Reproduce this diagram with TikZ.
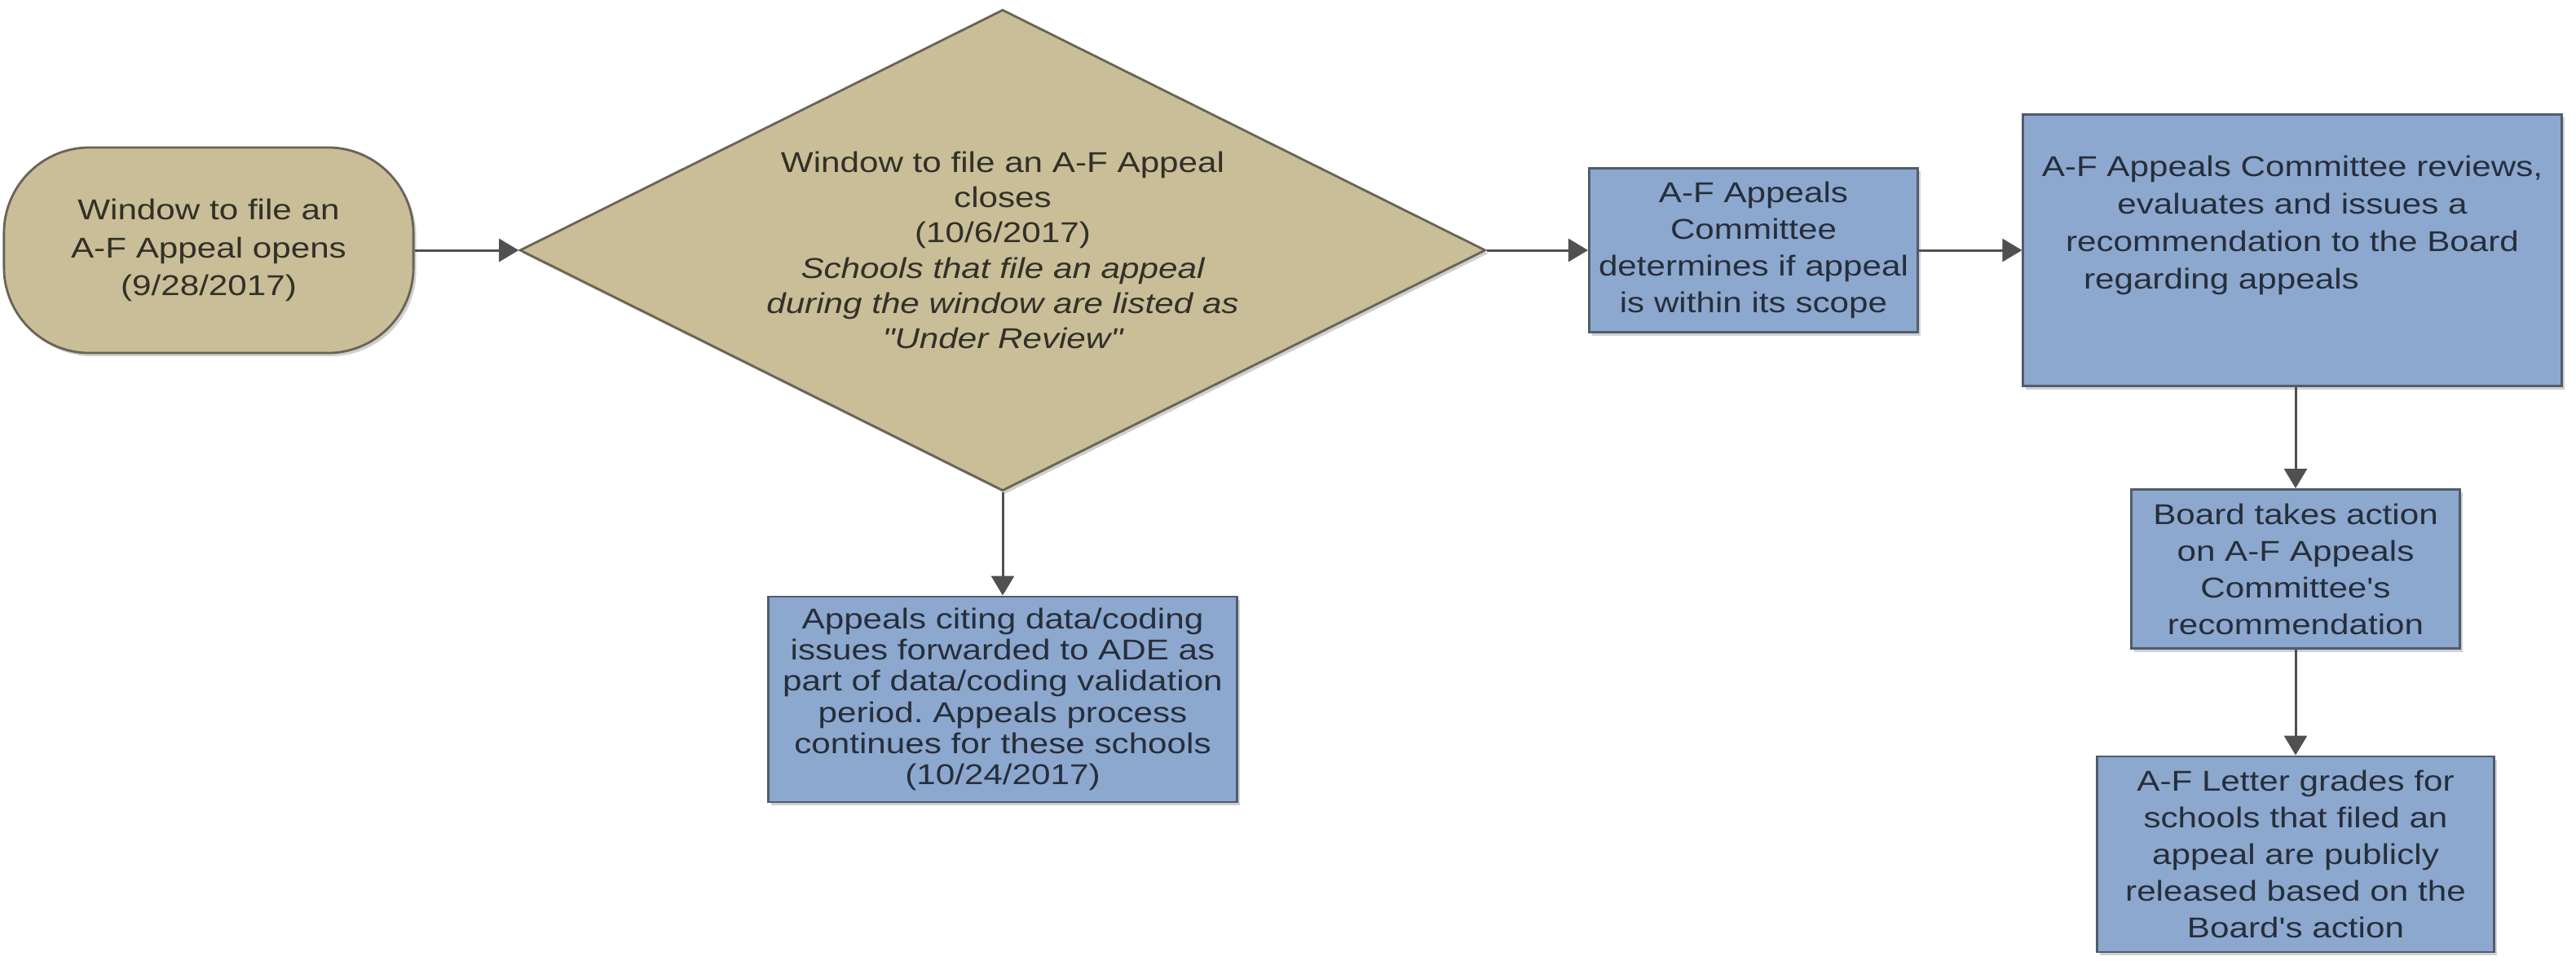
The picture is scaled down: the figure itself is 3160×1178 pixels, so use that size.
\documentclass[tikz,border=0pt]{standalone}
\usepackage{fontspec}
\setmainfont{Liberation Sans}[FakeStretch=1.2,Ligatures=TeXOff]
\usetikzlibrary{shapes.geometric,arrows.meta,shadows}
\definecolor{tanfill}{RGB}{201,190,152}
\definecolor{tanline}{RGB}{105,100,85}
\definecolor{bluefill}{RGB}{141,168,206}
\definecolor{blueline}{RGB}{80,92,110}
\definecolor{tantext}{RGB}{50,48,40}
\definecolor{bluetext}{RGB}{38,46,60}
\definecolor{arrowc}{RGB}{80,80,80}
\frenchspacing
\begin{document}
\begin{tikzpicture}[x=0.01cm,y=-0.01cm,
  shade/.style={drop shadow={shadow xshift=0.035cm,shadow yshift=-0.04cm,opacity=0.3,fill=black!60}},
  tanshape/.style={draw=tanline,fill=tanfill,line width=0.8pt,text=tantext,align=center,inner sep=0pt,shade},
  bluebox/.style={draw=blueline,fill=bluefill,line width=0.8pt,text=bluetext,align=center,inner sep=0pt,
    font=\fontsize{10}{12.8}\selectfont,shade},
  arr/.style={draw=arrowc,line width=0.85pt,-{Triangle[length=0.24cm,width=0.28cm]},fill=arrowc}
]
\useasboundingbox[fill=white] (0,0) rectangle (3160,1178);

\node[tanshape,rounded corners=1.05cm,minimum width=5.02cm,minimum height=2.52cm,
  font=\fontsize{10}{13.3}\selectfont] (start) at (256,307)
  {Window to file an\\A-F Appeal opens\\(9/28/2017)};

\node[tanshape,diamond,aspect=2,minimum width=11.84cm,minimum height=5.9cm,
  font=\fontsize{10}{12.3}\selectfont] (close) at (1230,307)
  {Window to file an A-F Appeal\\closes\\(10/6/2017)\\
   \itshape Schools that file an appeal\\\itshape during the window are listed as\\\itshape "Under Review"};

\node[bluebox,minimum width=5.75cm,minimum height=2.52cm,
  font=\fontsize{10}{10.9}\selectfont] (ade) at (1230,858)
  {Appeals citing data/coding\\issues forwarded to ADE as\\part of data/coding validation\\period. Appeals process\\continues for these schools\\(10/24/2017)};

\node[bluebox,minimum width=4.03cm,minimum height=2.01cm] (scope) at (2151,307)
  {A-F Appeals\\Committee\\determines if appeal\\is within its scope};

\node[bluebox,minimum width=6.6cm,minimum height=3.33cm] (review) at (2812,307) {};
\node[text=bluetext,align=center,inner sep=0pt,anchor=north,
  font=\fontsize{10}{13.1}\selectfont] (reviewtxt) at (2812,190)
  {A-F Appeals Committee reviews,\\evaluates and issues a\\recommendation to the Board\\regarding appeals\hspace*{1.74cm}};

\node[bluebox,minimum width=4.03cm,minimum height=1.95cm] (board) at (2816,698)
  {Board takes action\\on A-F Appeals\\Committee's\\recommendation};

\node[bluebox,minimum width=4.86cm,minimum height=2.4cm] (grades) at (2816,1048)
  {A-F Letter grades for\\schools that filed an\\appeal are publicly\\released based on the\\Board's action};

\draw[arr] (start.east) -- (close.west);
\draw[arr] (close.east) -- (scope.west);
\draw[arr] (scope.east) -- (review.west);
\draw[arr] (close.south) -- (ade.north);
\draw[arr] (review.south -| board.north) -- (board.north);
\draw[arr] (board.south) -- (grades.north);
\end{tikzpicture}
\end{document}
